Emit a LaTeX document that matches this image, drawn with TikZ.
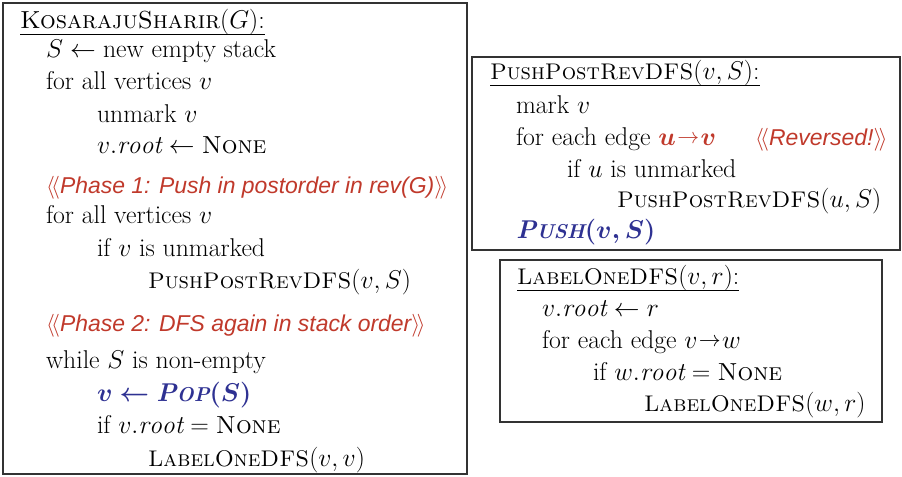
\RequirePackage{fix-cm}
\documentclass[tikz,border=0pt]{standalone}
\usepackage{amsmath,amssymb}
\usepackage{fontspec}
\newfontfamily\cmtfont{Liberation Sans}
\definecolor{cred}{HTML}{C0392B}
\definecolor{cblue}{HTML}{2E3192}
\definecolor{boxgray}{HTML}{333333}
\newcommand\fsc[1]{\scalebox{0.78}{#1}}
\newcommand\dfsname[1]{{\fontsize{17}{20}\selectfont\textsc{#1}}}
\newcommand\cmt[1]{\textcolor{cred}{$\langle\!\langle$\cmtfont\itshape #1$\rangle\!\rangle$}}
\newcommand\sarrow{\mathord{\raisebox{0.1ex}{\scalebox{0.85}{$\rightarrow$}}}}
\newcommand\popcall{$\boldsymbol{v}\mathrel{\boldsymbol{\leftarrow}}\textbf{\textit{P\fsc{OP}}}\boldsymbol{(S)}$}
\newcommand\pushcall{\textbf{\textit{P\fsc{USH}}}$\boldsymbol{(v,S)}$}
\tikzset{
  code/.style={anchor=base west, inner sep=0pt, outer sep=0pt, font=\fontsize{19.3}{22}\selectfont},
  cmtline/.style={anchor=base west, inner sep=0pt, outer sep=0pt, font=\fontsize{17.2}{20}\selectfont},
  algbox/.style={draw=boxgray, line width=1.1pt},
  uline/.style={line width=0.8pt}
}
\begin{document}
\begin{tikzpicture}[x=0.75pt, y=-0.75pt]
\useasboundingbox (0,0) rectangle (902,476);
% boxes
\draw[algbox] (3,3) rectangle (467,474);
\draw[algbox] (472,57) rectangle (900,250);
\draw[algbox] (500,260) rectangle (882,422);
% left box
\node[code] (k0) at (20,28) {{\fontsize{18.5}{22}\selectfont\textsc{KosarajuSharir}}$(G)$:};
\draw[uline] ([yshift=-5pt]k0.base west) -- ([yshift=-5pt]k0.base east);
\node[code] (k1) at (46,57) {$S\leftarrow{}$new empty stack};
\node[code] (k2) at (46,89) {for all vertices $v$};
\node[code] (k3) at (97,122) {unmark $v$};
\node[code] (k4) at (97,153) {$v.\mathit{root}\leftarrow{}${\fontsize{18.5}{22}\selectfont\textsc{None}}};
\node[cmtline] (k5) at (46,193) {\cmt{Phase 1: Push in postorder in rev(G)}};
\node[code] (k6) at (46,223) {for all vertices $v$};
\node[code] (k7) at (97,256) {if $v$ is unmarked};
\node[code] (k8) at (148,288) {\dfsname{PushPostRevDFS}$(v,S)$};
\node[cmtline] (k9) at (46,331) {\cmt{Phase 2: DFS again in stack order}};
\node[code] (k10) at (46,368) {while $S$ is non-empty};
\node[code, text=cblue] (k11) at (97,401) {\popcall};
\node[code] (k12) at (97,433) {if $v.\mathit{root}=\textrm{\fontsize{18.5}{22}\selectfont\textsc{None}}$};
\node[code] (k13) at (148,466) {\dfsname{LabelOneDFS}$(v,v)$};
% PushPostRevDFS box
\node[code] (p0) at (490,79) {\dfsname{PushPostRevDFS}$(v,S)$:};
\draw[uline] ([yshift=-5pt]p0.base west) -- ([yshift=-5pt]p0.base east);
\node[code] (p1) at (516,113) {mark $v$};
\node[code] (p2) at (516,145) {for each edge \textcolor{cred}{$\boldsymbol{u}\mkern1mu\sarrow\mkern1mu\boldsymbol{v}$}};
\node[cmtline] (p2c) at (755,145) {\cmt{Reversed!}};
\node[code] (p3) at (567,177) {if $u$ is unmarked};
\node[code] (p4) at (617,207) {\dfsname{PushPostRevDFS}$(u,S)$};
\node[code, text=cblue] (p5) at (516,238) {\pushcall};
% LabelOneDFS box
\node[code] (l0) at (517,284) {\dfsname{LabelOneDFS}$(v,r)$:};
\draw[uline] ([yshift=-5pt]l0.base west) -- ([yshift=-5pt]l0.base east);
\node[code] (l1) at (542,316) {$v.\mathit{root}\leftarrow r$};
\node[code] (l2) at (542,348) {for each edge $v\mkern1mu\sarrow\mkern1mu w$};
\node[code] (l3) at (593,380) {if $w.\mathit{root}=\textrm{\fontsize{18.5}{22}\selectfont\textsc{None}}$};
\node[code] (l4) at (644,411) {\textsc{\fontsize{17}{20}\selectfont LabelOneDFS}$(w,r)$};
\end{tikzpicture}
\end{document}
